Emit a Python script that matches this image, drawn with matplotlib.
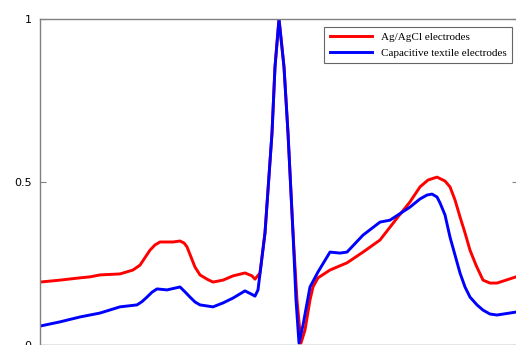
"""ECG beat: Ag/AgCl vs capacitive textile electrodes (normalised amplitude)."""
import matplotlib
matplotlib.use("Agg")
import matplotlib.pyplot as plt

# sample index (arbitrary units) and normalised amplitude
t_agcl = [0, 20, 40, 50, 60, 80, 93, 100, 105, 110, 115, 120, 133, 140, 144,
          147, 151, 155, 160, 167, 173, 183, 193, 205, 212, 215, 220, 225, 232,
          235, 239, 244, 248, 253, 257, 261, 265, 270, 273, 278, 290, 307, 323,
          340, 358, 370, 380, 388, 397, 405, 410, 415, 420, 425, 430, 436, 443,
          450, 457, 476]
v_agcl = [0.193, 0.199, 0.206, 0.209, 0.215, 0.218, 0.230, 0.245, 0.268, 0.291,
          0.307, 0.316, 0.316, 0.319, 0.313, 0.301, 0.270, 0.239, 0.215, 0.202,
          0.193, 0.199, 0.212, 0.221, 0.212, 0.202, 0.221, 0.344, 0.650, 0.853,
          1.0, 0.853, 0.650, 0.344, 0.138, 0.006, 0.046, 0.138, 0.178, 0.206,
          0.230, 0.252, 0.285, 0.322, 0.393, 0.439, 0.485, 0.506, 0.515, 0.503,
          0.485, 0.445, 0.393, 0.344, 0.291, 0.245, 0.199, 0.190, 0.190,
          0.209]

t_textile = [0, 20, 40, 60, 80, 97, 102, 107, 112, 117, 127, 140, 145, 150, 155,
             160, 173, 183, 193, 205, 212, 215, 218, 225, 232, 235, 239, 244,
             248, 253, 256, 259, 263, 270, 278, 290, 300, 307, 323, 340, 350,
             358, 370, 380, 387, 392, 397, 400, 405, 410, 415, 420, 425, 430,
             437, 443, 450, 457, 476]
v_textile = [0.058, 0.071, 0.086, 0.098, 0.117, 0.123, 0.133, 0.147, 0.162,
             0.172, 0.169, 0.178, 0.163, 0.147, 0.132, 0.123, 0.117, 0.129,
             0.144, 0.166, 0.155, 0.150, 0.169, 0.344, 0.650, 0.853, 1.0,
             0.853, 0.650, 0.344, 0.138, 0.006, 0.061, 0.178, 0.224, 0.285,
             0.282, 0.285, 0.337, 0.377, 0.383, 0.399, 0.423, 0.448, 0.460,
             0.463, 0.454, 0.436, 0.399, 0.331, 0.276, 0.221, 0.178, 0.147,
             0.123, 0.107, 0.095, 0.092, 0.101]

fig = plt.figure(figsize=(5.16, 3.45), dpi=100)
ax = fig.add_axes([40 / 516, 0.0, 477.5 / 516, 326 / 345])

ax.plot(t_agcl, v_agcl, color="#ff0000", lw=2.1, solid_joinstyle="round",
        label="Ag/AgCl electrodes")
ax.plot(t_textile, v_textile, color="#0000ff", lw=2.1, solid_joinstyle="round",
        label="Capacitive textile electrodes")

ax.set_xlim(0, 477.5)
ax.set_ylim(0, 1)
ax.set_yticks([0, 0.5, 1])
ax.set_yticklabels(["0", "0.5", "1"])
ax.set_xticks([])
ax.tick_params(axis="y", direction="in", right=True, length=4, width=0.8,
               color="#808080", labelsize=8, pad=6)
for sp in ax.spines.values():
    sp.set_color("#808080")
    sp.set_linewidth(1.0)

leg = ax.legend(loc="upper right", bbox_to_anchor=(512 / 516, 1 - 27 / 345),
                bbox_transform=fig.transFigure, fancybox=False, frameon=True,
                prop={"family": "Liberation Serif", "size": 8},
                handlelength=3.8, borderpad=0.5, labelspacing=0.5,
                borderaxespad=0)
leg.get_frame().set_edgecolor("#404040")
leg.get_frame().set_linewidth(0.8)

fig.savefig("out.png", dpi=100, facecolor="white")
